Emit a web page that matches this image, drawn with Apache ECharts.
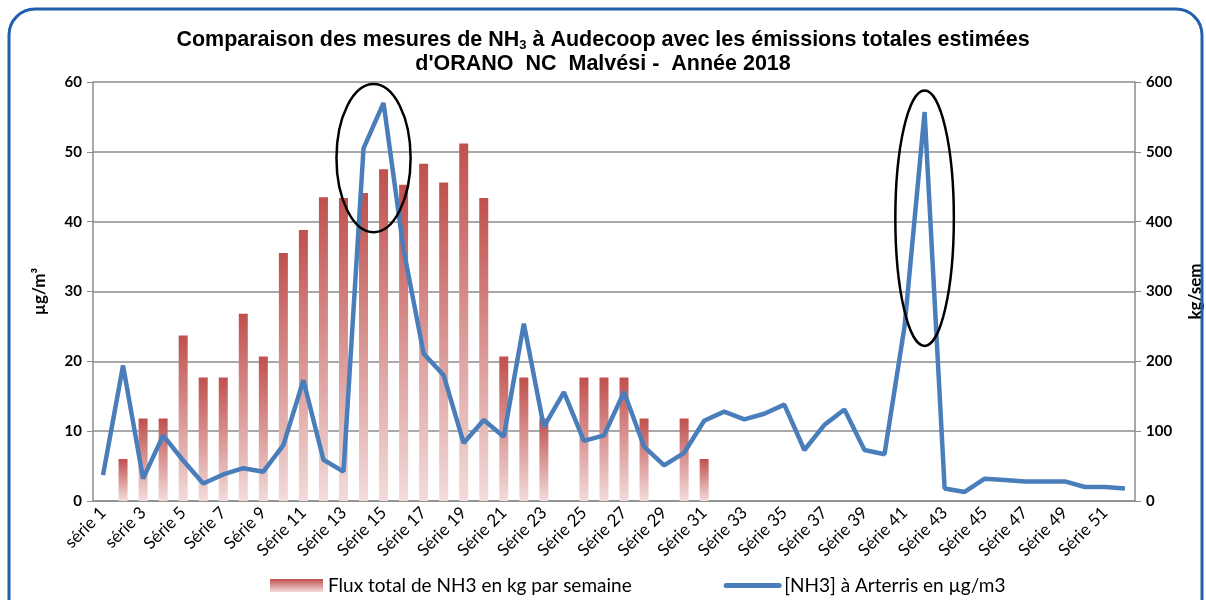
<!DOCTYPE html>
<html>
<head>
<meta charset="utf-8">
<script src="https://cdn.jsdelivr.net/npm/echarts@6/dist/echarts.min.js"></script>
<style>
  html, body { margin: 0; padding: 0; background: #fff; }
  #chart { width: 1206px; height: 600px; }
</style>
</head>
<body>
<div id="chart"></div>
<script>
// semaines : série 1 ... série 52
const categories = [];
for (let i = 1; i <= 52; i++) {
    categories.push((i <= 4 ? 'série ' : 'Série ') + i);
}

// Flux total de NH3 (kg/sem), axe de droite
const fluxKg = [
    null, 60, 118, 118, 237, 177, 177, 268, 207, 355,
    388, 435, 434, 441, 475, 453, 483, 456, 512, 434,
    207, 177, 118, null, 177, 177, 177, 118, null, 118,
    60, null, null, null, null, null, null, null, null, null,
    null, null, null, null, null, null, null, null, null, null,
    null, null
];

// [NH3] à Arterris (µg/m3), axe de gauche
const nh3Arterris = [
    3.7, 19.4, 3.2, 9.4, 5.8, 2.5, 3.8, 4.7, 4.2, 8.0,
    17.3, 5.9, 4.2, 50.5, 57.0, 36.0, 21.1, 18.0, 8.3, 11.6,
    9.2, 25.4, 10.6, 15.6, 8.6, 9.4, 15.6, 7.8, 5.1, 6.9,
    11.5, 12.8, 11.7, 12.5, 13.8, 7.3, 10.9, 13.1, 7.3, 6.7,
    25.0, 55.7, 1.8, 1.3, 3.2, 3.0, 2.8, 2.8, 2.8, 2.0,
    2.0, 1.8
];

const leftTicks = [0, 10, 20, 30, 40, 50, 60];
const rightTicks = [0, 100, 200, 300, 400, 500, 600];

// ellipses d'annotation : [index catégorie centre, valeur centre (µg/m3), demi-largeur en catégories, demi-hauteur en µg/m3]
const ellipses = [
    [13.5, 49.1, 1.85, 10.6],
    [41, 40.5, 1.46, 18.3]
];

const gridColor = '#8c8c8c';
const labelFont = 'Lato, "Open Sans", sans-serif';
const titleFont = '"Liberation Sans", Arial, sans-serif';

const chart = echarts.init(document.getElementById('chart'));

const option = {
    backgroundColor: '#fff',
    animation: false,
    title: {
        left: 'center',
        top: 23,
        text: '{b|Comparaison des mesures de NH}{s|3}{b| à Audecoop avec les émissions totales estimées}\n{b|d\'ORANO  NC  Malvési -  Année 2018}',
        textStyle: {
            rich: {
                b: { fontFamily: titleFont, fontWeight: 'bold', fontSize: 21.5, color: '#000', lineHeight: 24 },
                s: { fontFamily: titleFont, fontWeight: 'bold', fontSize: 13, color: '#000', lineHeight: 24, verticalAlign: 'bottom', padding: [9, 0, 0, 0] }
            }
        }
    },
    legend: {
        bottom: 0,
        left: 265,
        itemGap: 92,
        itemWidth: 53,
        itemHeight: 13,
        textStyle: { fontFamily: labelFont, fontSize: 19, color: '#000' },
        data: [
            { name: 'Flux total de NH3 en kg par semaine', icon: 'rect' },
            { name: '[NH3] à Arterris en µg/m3', itemStyle: { opacity: 0 }, lineStyle: { width: 5, cap: 'round' } }
        ]
    },
    grid: { left: 93, right: 71, top: 82, bottom: 99, outerBoundsMode: 'none' },
    xAxis: {
        type: 'category',
        data: categories,
        boundaryGap: true,
        axisLine: { lineStyle: { color: gridColor, width: 1.5 } },
        axisTick: { interval: 0, length: 5, lineStyle: { color: gridColor } },
        axisLabel: {
            interval: 1,
            rotate: 45,
            fontFamily: labelFont,
            fontSize: 17,
            color: '#000',
            margin: 9
        }
    },
    yAxis: [
        {
            type: 'value',
            min: leftTicks[0],
            max: leftTicks[leftTicks.length - 1],
            interval: 10,
            name: 'µg/m³',
            nameLocation: 'middle',
            nameRotate: 90,
            nameGap: 45,
            nameTextStyle: { fontFamily: labelFont, fontWeight: 'bold', fontSize: 17, color: '#000' },
            axisLine: { show: true, lineStyle: { color: gridColor, width: 1.5 } },
            axisTick: { show: true, length: 6, lineStyle: { color: gridColor } },
            axisLabel: { fontFamily: labelFont, fontWeight: 'bold', fontSize: 15, color: '#000', margin: 11 },
            splitLine: { lineStyle: { color: gridColor, width: 1.5 } }
        },
        {
            type: 'value',
            min: rightTicks[0],
            max: rightTicks[rightTicks.length - 1],
            interval: 100,
            name: 'kg/sem',
            nameLocation: 'middle',
            nameRotate: 90,
            nameGap: 52,
            nameTextStyle: { fontFamily: labelFont, fontWeight: 'bold', fontSize: 17, color: '#000' },
            axisLine: { show: true, lineStyle: { color: gridColor, width: 1.5 } },
            axisTick: { show: true, length: 6, lineStyle: { color: gridColor } },
            axisLabel: { fontFamily: labelFont, fontWeight: 'bold', fontSize: 15, color: '#000', margin: 11 },
            splitLine: { show: false }
        }
    ],
    series: [
        {
            name: 'Flux total de NH3 en kg par semaine',
            type: 'bar',
            yAxisIndex: 1,
            barWidth: 9,
            data: fluxKg,
            itemStyle: {
                color: new echarts.graphic.LinearGradient(0, 0, 0, 1, [
                    { offset: 0, color: '#c0504d' },
                    { offset: 1, color: '#f2dcdb' }
                ])
            },
            z: 2
        },
        {
            name: '[NH3] à Arterris en µg/m3',
            type: 'line',
            yAxisIndex: 0,
            data: nh3Arterris,
            symbol: 'none',
            lineStyle: { color: '#4a7ebb', width: 4.5 },
            itemStyle: { color: '#4a7ebb' },
            z: 3
        }
    ]
};

chart.setOption(option);

// cadre arrondi + ellipses placées via les axes
const graphics = [{
    type: 'rect',
    shape: { x: 9, y: 9, width: 1193, height: 640, r: 26 },
    style: { fill: 'none', stroke: '#1f5fae', lineWidth: 3 },
    z: 10
}];
const step = chart.convertToPixel({ xAxisIndex: 0 }, 1) - chart.convertToPixel({ xAxisIndex: 0 }, 0);
ellipses.forEach(e => {
    const i0 = Math.floor(e[0]);
    const x0 = chart.convertToPixel({ xAxisIndex: 0 }, i0);
    const cx = x0 + (e[0] - i0) * step;
    const cy = chart.convertToPixel({ yAxisIndex: 0 }, e[1]);
    const ry = chart.convertToPixel({ yAxisIndex: 0 }, e[1] - e[3]) - cy;
    graphics.push({
        type: 'ellipse',
        shape: { cx: cx, cy: cy, rx: e[2] * step, ry: ry },
        style: { fill: 'none', stroke: '#000', lineWidth: 2.5 },
        z: 10
    });
});
chart.setOption({ graphic: graphics });
</script>
</body>
</html>
